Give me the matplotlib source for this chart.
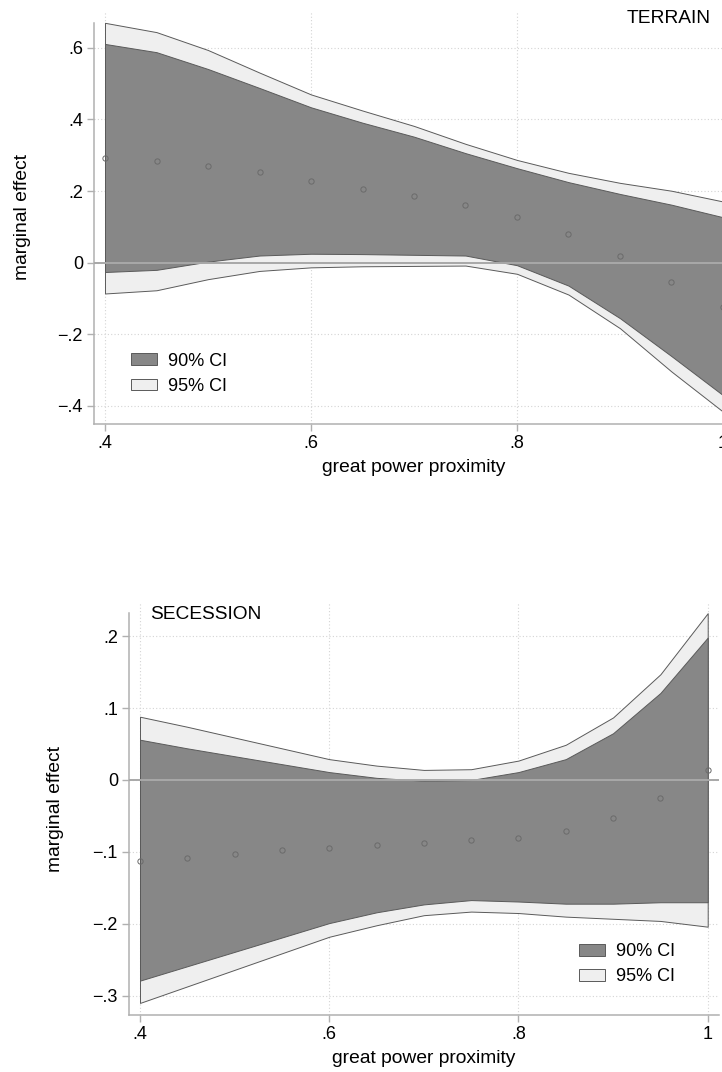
import matplotlib
matplotlib.use("Agg")
import matplotlib.pyplot as plt

plt.rcParams['font.family'] = ['Liberation Sans', 'DejaVu Sans']

# ---------------- data ----------------
proximity = [0.40, 0.45, 0.50, 0.55, 0.60, 0.65, 0.70, 0.75, 0.80, 0.85, 0.90, 0.95, 1.00]

terrain_est = [0.292, 0.284, 0.271, 0.252, 0.229, 0.207, 0.186, 0.161, 0.127, 0.080, 0.019, -0.054, -0.125]
terrain_hi95 = [0.670, 0.644, 0.594, 0.531, 0.470, 0.425, 0.382, 0.332, 0.287, 0.251, 0.223, 0.201, 0.171]
terrain_hi90 = [0.611, 0.588, 0.541, 0.488, 0.434, 0.391, 0.352, 0.306, 0.264, 0.225, 0.192, 0.162, 0.127]
terrain_lo90 = [-0.026, -0.020, 0.003, 0.020, 0.025, 0.024, 0.022, 0.020, -0.007, -0.064, -0.155, -0.261, -0.370]
terrain_lo95 = [-0.086, -0.077, -0.046, -0.023, -0.013, -0.010, -0.009, -0.008, -0.031, -0.089, -0.183, -0.304, -0.416]

secession_est = [-0.112, -0.108, -0.103, -0.098, -0.095, -0.091, -0.087, -0.084, -0.080, -0.071, -0.053, -0.025, 0.014]
secession_hi95 = [0.088, 0.074, 0.059, 0.044, 0.029, 0.020, 0.014, 0.015, 0.027, 0.049, 0.087, 0.147, 0.232]
secession_hi90 = [0.056, 0.044, 0.033, 0.022, 0.011, 0.003, -0.001, 0.000, 0.011, 0.029, 0.065, 0.121, 0.198]
secession_lo90 = [-0.279, -0.259, -0.239, -0.219, -0.199, -0.184, -0.173, -0.167, -0.169, -0.172, -0.172, -0.170, -0.170]
secession_lo95 = [-0.310, -0.287, -0.264, -0.241, -0.218, -0.202, -0.188, -0.183, -0.185, -0.190, -0.193, -0.196, -0.204]

x_ticks = [0.4, 0.6, 0.8, 1.0]
x_ticklabels = [".4", ".6", ".8", "1"]
terrain_yticks = [-0.4, -0.2, 0.0, 0.2, 0.4, 0.6]
terrain_yticklabels = ["\u2212.4", "\u2212.2", "0", ".2", ".4", ".6"]
secession_yticks = [-0.3, -0.2, -0.1, 0.0, 0.1, 0.2]
secession_yticklabels = ["\u2212.3", "\u2212.2", "\u2212.1", "0", ".1", ".2"]

x_title = "great power proximity"
y_title = "marginal effect"
legend_labels = ["90% CI", "95% CI"]

# ---------------- style ----------------
DARK = "#878787"
LIGHT = "#efefef"
EDGE = "#5a5a5a"
AXC = "#b0b0b0"
GRIDC = "#d4d4d4"
ZEROC = "#a8a8a8"
PTC = "#6a6a6a"

fig = plt.figure(figsize=(7.22, 10.72), dpi=100)
W, H = 722.0, 1072.0


def make_axes(left, right, top, bottom):
    return fig.add_axes([left / W, 1 - bottom / H, (right - left) / W, (bottom - top) / H])


def draw_panel(ax, est, lo95, hi95, lo90, hi90, xlim, ylim, yticks, yticklabels,
               title, title_xy, title_ha, leg_xy, ylab_x, xlab_y):
    ax.set_xlim(*xlim)
    ax.set_ylim(*ylim)
    b95 = ax.fill_between(proximity, lo95, hi95, facecolor=LIGHT, edgecolor=EDGE,
                          linewidth=0.7, zorder=2, label=legend_labels[1])
    b90 = ax.fill_between(proximity, lo90, hi90, facecolor=DARK, edgecolor=EDGE,
                          linewidth=0.7, zorder=2.1, label=legend_labels[0])
    ax.axhline(0, color=ZEROC, linewidth=1.4, zorder=3)
    ax.plot(proximity, est, linestyle="none", marker="o", markersize=3.8,
            markerfacecolor="none", markeredgecolor=PTC, markeredgewidth=0.7, zorder=4)

    ax.set_xticks(x_ticks)
    ax.set_xticklabels(x_ticklabels)
    ax.set_yticks(yticks)
    ax.set_yticklabels(yticklabels)
    ax.tick_params(axis="both", direction="out", length=5, width=1.0, color=AXC,
                   labelsize=13, labelcolor="black")
    ax.tick_params(axis="y", pad=3)
    ax.tick_params(axis="x", pad=3.0)

    ax.grid(True, color=GRIDC, linestyle=(0, (1, 2)), linewidth=0.8, zorder=0)
    ax.set_axisbelow(True)

    for s in ["top", "right"]:
        ax.spines[s].set_visible(False)
    for s in ["left", "bottom"]:
        ax.spines[s].set_color(AXC)
        ax.spines[s].set_linewidth(1.1)
    ax.spines["left"].set_bounds(ylim[0], max(hi95))

    ax.set_xlabel(x_title, fontsize=13.9, va="center")
    ax.xaxis.set_label_coords(0.5, xlab_y)
    ax.set_ylabel(y_title, fontsize=13.9, va="center", ha="center")
    ax.yaxis.set_label_coords(ylab_x, 0.5)

    ax.text(title_xy[0], title_xy[1], title, transform=ax.transAxes, ha=title_ha,
            va="center", fontsize=13.8)

    ax.legend(handles=[b90, b95], labels=legend_labels, loc="center left",
              bbox_to_anchor=leg_xy, frameon=False, fontsize=13, borderpad=0,
              borderaxespad=0, handlelength=1.44, handleheight=0.61,
              handletextpad=0.61, labelspacing=0.45)


# top panel: TERRAIN
ax1 = make_axes(94, 734, 11, 423.7)
draw_panel(ax1, terrain_est, terrain_lo95, terrain_hi95, terrain_lo90, terrain_hi90,
           xlim=(0.38932, 1.01068), ylim=(-0.4497, 0.703),
           yticks=terrain_yticks, yticklabels=terrain_yticklabels,
           title="TERRAIN", title_xy=(0.9641, 0.983), title_ha="right",
           leg_xy=(0.0577, 0.1212), ylab_x=-0.1110, xlab_y=-0.1073)

# bottom panel: SECESSION
ax2 = make_axes(129, 718.7, 602.3, 1015)
draw_panel(ax2, secession_est, secession_lo95, secession_hi95, secession_lo90, secession_hi90,
           xlim=(0.38838, 1.01162), ylim=(-0.3268, 0.2471),
           yticks=secession_yticks, yticklabels=secession_yticklabels,
           title="SECESSION", title_xy=(0.0356, 0.9709), title_ha="left",
           leg_xy=(0.7626, 0.1231), ylab_x=-0.1238, xlab_y=-0.1042)

fig.savefig("out.png", dpi=100)
